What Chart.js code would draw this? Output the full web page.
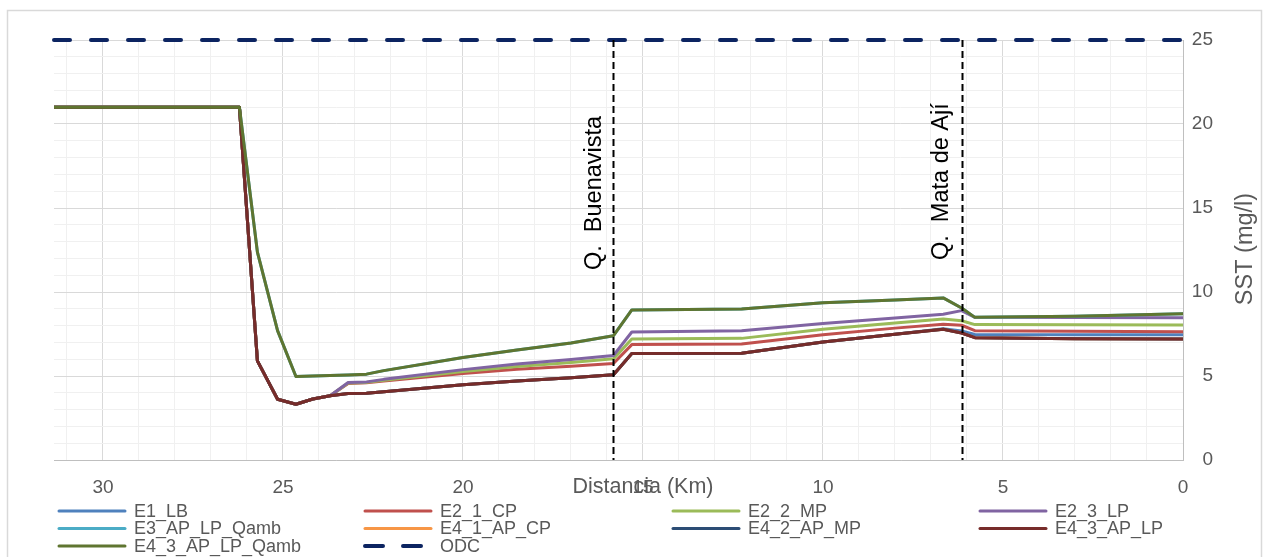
<!DOCTYPE html>
<html><head><meta charset="utf-8">
<script src="https://cdn.jsdelivr.net/npm/chart.js@4.4.1/dist/chart.umd.min.js"></script>
<style>html,body{margin:0;padding:0;background:#fff;} #wrap{width:1265px;height:557px;position:relative;}</style>
</head><body><div id="wrap"><canvas id="c" width="1265" height="557"></canvas></div>
<script>
// ---- data ----
const distanceKm = [31.36, 26.21, 25.71, 25.15, 24.64, 24.17, 23.69, 23.19, 22.68, 22.2, 20.0, 18.5, 17.0, 15.82, 15.31, 12.26, 10.0, 8.0, 6.66, 6.15, 5.78, 3.0, 0];
const E1_LB            = [21, 21, 5.9, 3.62, 3.32, 3.63, 3.82, 3.96, 3.98, 4.06, 4.48, 4.70, 4.90, 5.07, 6.34, 6.36, 7.02, 7.48, 7.82, 7.68, 7.47, 7.46, 7.45];
const E2_1_CP          = [21, 21, 5.9, 3.62, 3.32, 3.63, 3.82, 4.56, 4.60, 4.70, 5.15, 5.40, 5.58, 5.74, 6.87, 6.90, 7.45, 7.85, 8.08, 8.02, 7.70, 7.66, 7.64];
const E2_2_MP          = [21, 21, 5.9, 3.62, 3.32, 3.63, 3.82, 4.58, 4.62, 4.74, 5.27, 5.57, 5.80, 6.02, 7.20, 7.24, 7.78, 8.15, 8.39, 8.29, 8.06, 8.05, 8.04];
const E2_3_LP          = [21, 21, 5.9, 3.62, 3.32, 3.63, 3.82, 4.61, 4.65, 4.80, 5.38, 5.72, 5.98, 6.22, 7.62, 7.70, 8.12, 8.45, 8.68, 8.89, 8.49, 8.48, 8.47];
const E3_AP_LP_Qamb    = [21, 21, 12.37, 7.70, 4.97, 5.00, 5.03, 5.06, 5.11, 5.32, 6.10, 6.55, 6.97, 7.40, 8.93, 8.99, 9.36, 9.52, 9.65, 9.05, 8.49, 8.56, 8.70];
const E4_1_AP_CP       = [21, 21, 5.9, 3.62, 3.32, 3.63, 3.82, 3.96, 3.98, 4.06, 4.48, 4.70, 4.90, 5.07, 6.34, 6.36, 7.02, 7.48, 7.78, 7.56, 7.28, 7.22, 7.20];
const E4_2_AP_MP       = [21, 21, 5.9, 3.62, 3.32, 3.63, 3.82, 3.96, 3.98, 4.06, 4.48, 4.70, 4.90, 5.07, 6.34, 6.36, 7.02, 7.48, 7.78, 7.56, 7.28, 7.22, 7.20];
const E4_3_AP_LP       = [21, 21, 5.9, 3.62, 3.32, 3.63, 3.82, 3.96, 3.98, 4.06, 4.48, 4.70, 4.90, 5.07, 6.34, 6.36, 7.02, 7.48, 7.78, 7.56, 7.28, 7.22, 7.20];
const E4_3_AP_LP_Qamb  = [21, 21, 12.37, 7.70, 4.97, 5.00, 5.03, 5.06, 5.11, 5.32, 6.10, 6.55, 6.97, 7.40, 8.93, 8.99, 9.36, 9.52, 9.65, 9.05, 8.49, 8.56, 8.70];
const odcKm = [31.36, 0];
const ODC   = [25, 25];
const seriesNames = ['E1_LB','E2_1_CP','E2_2_MP','E2_3_LP','E3_AP_LP_Qamb','E4_1_AP_CP','E4_2_AP_MP','E4_3_AP_LP','E4_3_AP_LP_Qamb'];
const seriesValues = [E1_LB, E2_1_CP, E2_2_MP, E2_3_LP, E3_AP_LP_Qamb, E4_1_AP_CP, E4_2_AP_MP, E4_3_AP_LP, E4_3_AP_LP_Qamb];
const odcName = 'ODC';
const xTickLabels = [0, 5, 10, 15, 20, 25, 30];
const yTickLabels = [0, 5, 10, 15, 20, 25];
const markerKm = [15.83, 6.14];
const markerLabels = ['Q.  Buenavista', 'Q.  Mata de Ají'];
const xTitle = 'Distancia (Km)';
const yTitle = 'SST (mg/l)';

// ---- styles ----
const seriesColors = ['#4F81BD','#C0504D','#9BBB59','#8064A2','#4BACC6','#F79646','#2C4D75','#772C2A','#5F7530'];
const odcColor = '#0C2461';
const FONT = '"Liberation Sans", Arial, sans-serif';
const TXT = '#595959';
const N = seriesNames.length + 1;

const datasets = seriesNames.map((name, i) => ({
  label: name,
  data: distanceKm.map((x, j) => ({x, y: seriesValues[i][j]})),
  borderColor: seriesColors[i], backgroundColor: seriesColors[i],
  borderWidth: 3, pointRadius: 0, tension: 0, fill: false,
  borderJoinStyle: 'round', borderCapStyle: 'round',
  order: N - i
}));
datasets.push({
  label: odcName,
  data: odcKm.map((x, j) => ({x, y: ODC[j]})),
  borderColor: odcColor, backgroundColor: odcColor,
  borderWidth: 4, borderDash: [16, 21], borderCapStyle: 'round',
  pointRadius: 0, fill: false, clip: false, order: 0
});

const gridColor = ctx => (ctx.tick && Math.round(ctx.tick.value) % 5 === 0) ? '#d9d9d9' : '#f0f0f0';

const decor = {
  id: 'decor',
  beforeDraw(chart) {
    const c = chart.ctx;
    c.save();
    c.fillStyle = '#fff'; c.fillRect(0, 0, chart.width, chart.height);
    c.strokeStyle = '#d9d9d9'; c.lineWidth = 1.5;
    c.strokeRect(7.5, 10.5, chart.width - 11, chart.height + 10);
    c.restore();
  },
  afterDatasetsDraw(chart) {
    const c = chart.ctx, xs = chart.scales.x, a = chart.chartArea;
    c.save();
    const anchors = [{dx: -13, y: 270}, {dx: -15, y: 260}];
    markerKm.forEach((km, i) => {
      const px = Math.round(xs.getPixelForValue(km)) + 0.5;
      c.strokeStyle = '#000'; c.lineWidth = 2; c.setLineDash([7, 4]);
      c.beginPath(); c.moveTo(px, a.top); c.lineTo(px, a.bottom); c.stroke();
      c.setLineDash([]);
      c.save();
      c.translate(px + anchors[i].dx, anchors[i].y);
      c.rotate(-Math.PI / 2);
      c.fillStyle = '#000'; c.font = '23.5px ' + FONT;
      c.textAlign = 'left'; c.textBaseline = 'alphabetic';
      c.fillText(markerLabels[i], 0, 0);
      c.restore();
    });
    c.restore();
  },
  afterDraw(chart) {
    const c = chart.ctx, a = chart.chartArea;
    c.save();
    c.fillStyle = TXT; c.textAlign = 'center'; c.textBaseline = 'middle';
    c.font = '21.5px ' + FONT;
    c.fillText(xTitle, 643, 487);
    c.save();
    c.font = '23.5px ' + FONT;
    c.translate(1246, 249);
    c.rotate(-Math.PI / 2);
    c.fillText(yTitle, 0, 0);
    c.restore();
    // legend
    const colX = [57, 363, 671, 978], rowY = [511, 528.5, 546];
    const all = chart.data.datasets;
    c.font = '18px ' + FONT; c.textAlign = 'left'; c.textBaseline = 'middle';
    all.forEach((ds, i) => {
      const col = i % 4, row = Math.floor(i / 4);
      const x = colX[col], y = rowY[row];
      c.strokeStyle = ds.borderColor; c.lineCap = 'round';
      c.lineWidth = ds.borderDash ? 4 : 3;
      c.setLineDash(ds.borderDash ? [18, 20] : []);
      c.beginPath(); c.moveTo(x + 2, y); c.lineTo(x + 68, y); c.stroke();
      c.setLineDash([]);
      c.fillStyle = TXT;
      c.fillText(ds.label, x + 77, y + 1);
    });
    c.restore();
  }
};

new Chart(document.getElementById('c'), {
  type: 'line',
  data: {datasets},
  plugins: [decor],
  options: {
    responsive: false, animation: false, devicePixelRatio: 1,
    layout: {padding: {left: 54, top: 40, right: 52, bottom: 0}},
    plugins: {legend: {display: false}, tooltip: {enabled: false}},
    scales: {
      x: {
        type: 'linear', reverse: true, min: 0, max: 31.36,
        afterFit: s => { s.height = 97; },
        ticks: {stepSize: 1, autoSkip: false, includeBounds: false, maxRotation: 0, padding: 16,
          color: TXT, font: {family: FONT, size: 19},
          callback: v => xTickLabels.includes(v) ? String(v) : ''},
        grid: {color: gridColor, lineWidth: 1, drawTicks: false},
        border: {display: true, color: '#bfbfbf', width: 1}
      },
      y: {
        type: 'linear', position: 'right', min: 0, max: 25,
        afterFit: s => { s.width = 30; },
        ticks: {stepSize: 1, autoSkip: false, crossAlign: 'far', padding: 8,
          color: TXT, font: {family: FONT, size: 19},
          callback: v => yTickLabels.includes(v) ? String(v) : ''},
        grid: {color: gridColor, lineWidth: 1, drawTicks: false},
        border: {display: true, color: '#bfbfbf', width: 1}
      }
    }
  }
});
</script></body></html>
